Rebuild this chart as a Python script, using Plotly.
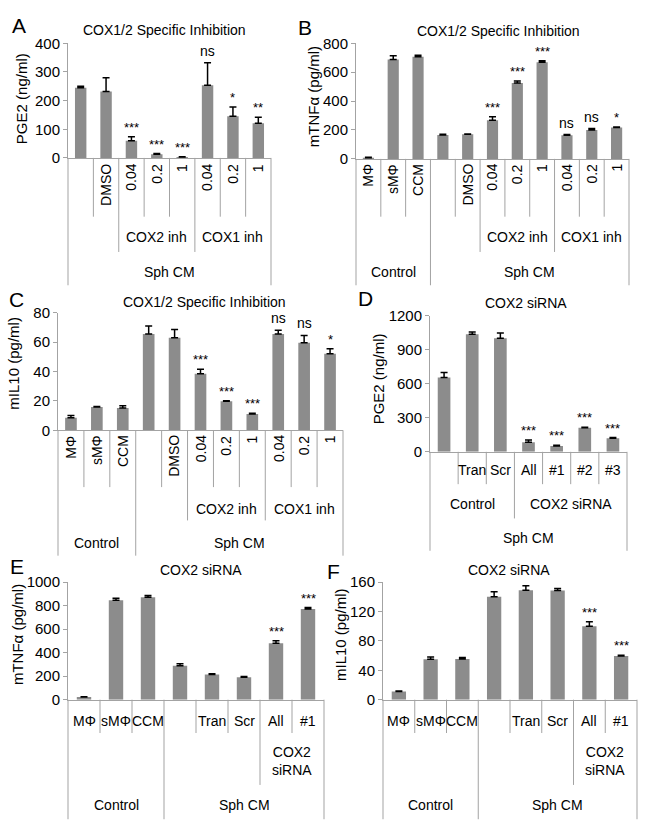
import plotly.graph_objects as go

W, H = 649, 838

# ---------------- data ----------------
A_categories = ["", "DMSO", "0.04", "0.2", "1", "0.04", "0.2", "1"]
A_pge2 = [245, 232, 60, 13, 3, 254, 145, 121]
A_err = [5, 48, 14, 2, 1, 78, 33, 21]
A_sig = ["", "", "***", "***", "***", "ns", "*", "**"]
A_groups = [("COX2 inh", 2, 4, 2), ("COX1 inh", 5, 7, 2), ("Sph CM", 0, 7, 3)]

B_categories = ["MΦ", "sMΦ", "CCM", "", "DMSO", "0.04", "0.2", "1", "0.04", "0.2", "1"]
B_tnfa = [8, 688, 706, 165, 170, 267, 525, 668, 163, 200, 217]
B_err = [3, 25, 12, 5, 3, 25, 14, 12, 5, 10, 4]
B_sig = ["", "", "", "", "", "***", "***", "***", "ns", "ns", "*"]
B_groups = [("COX2 inh", 5, 7, 2), ("COX1 inh", 8, 10, 2), ("Control", 0, 2, 3), ("Sph CM", 3, 10, 3)]

C_categories = ["MΦ", "sMΦ", "CCM", "", "DMSO", "0.04", "0.2", "1", "0.04", "0.2", "1"]
C_il10 = [8.5, 15.8, 15.2, 65.5, 63, 38.5, 19.8, 11, 65.5, 59.5, 52]
C_err = [1.5, 0.3, 1.5, 5.5, 5.5, 3, 0.3, 0.6, 2.5, 5, 3.5]
C_sig = ["", "", "", "", "", "***", "***", "***", "ns", "ns", "*"]
C_groups = [("COX2 inh", 5, 7, 2), ("COX1 inh", 8, 10, 2), ("Control", 0, 2, 3), ("Sph CM", 3, 10, 3)]

D_categories = ["", "Tran", "Scr", "All", "#1", "#2", "#3"]
D_pge2 = [655, 1035, 1000, 85, 52, 212, 120]
D_err = [45, 22, 48, 20, 5, 5, 6]
D_sig = ["", "", "", "***", "***", "***", "***"]
D_groups = [("Control", 0, 2, 2), ("COX2 siRNA", 3, 6, 2), ("Sph CM", 0, 6, 3)]

E_categories = ["MΦ", "sMΦ", "CCM", "", "Tran", "Scr", "All", "#1"]
E_tnfa = [22, 845, 872, 288, 215, 190, 480, 772]
E_err = [3, 18, 15, 18, 6, 8, 22, 12]
E_sig = ["", "", "", "", "", "", "***", "***"]
E_groups = [("COX2<br>siRNA", 6, 7, 2), ("Control", 0, 2, 3), ("Sph CM", 3, 7, 3)]

F_categories = ["MΦ", "sMΦ", "CCM", "", "Tran", "Scr", "All", "#1"]
F_il10 = [11, 55, 55.5, 140, 149, 148.5, 100, 59.5]
F_err = [1, 3, 2, 7, 6, 3, 6, 1]
F_sig = ["", "", "", "", "", "", "***", "***"]
F_groups = [("COX2<br>siRNA", 6, 7, 2), ("Control", 0, 2, 3), ("Sph CM", 3, 7, 3)]

titles = ["COX1/2 Specific Inhibition", "COX1/2 Specific Inhibition",
          "COX1/2 Specific Inhibition", "COX2 siRNA", "COX2 siRNA", "COX2 siRNA"]
letters = ["A", "B", "C", "D", "E", "F"]
ylabels = ["PGE2 (ng/ml)", "mTNFα (pg/ml)", "mIL10 (pg/ml)",
           "PGE2 (ng/ml)", "mTNFα (pg/ml)", "mIL10 (pg/ml)"]

# ---------------- layout geometry (pixels) ----------------
FONT = "Liberation Sans, Arial, sans-serif"
BAR = "#8c8c8c"
LINE = "#a3a3a3"

panels = [
    dict(cats=A_categories, vals=A_pge2, errs=A_err, sig=A_sig, groups=A_groups,
         x0=68, x1=271, yt=35, yb=152, rng=[0, 400], dt=100, rot=True,
         letter=(19, 17), title=(164, 21), ylab=(21, 92),
         depth={1: 212, 2: 248, 3: 282}, laby={1: 156, 2: 233, 3: 268}),
    dict(cats=B_categories, vals=B_tnfa, errs=B_err, sig=B_sig, groups=B_groups,
         x0=356, x1=629, yt=35, yb=153, rng=[0, 800], dt=200, rot=True,
         letter=(305, 19), title=(498, 22), ylab=(313, 90),
         depth={1: 212, 2: 248, 3: 282}, laby={1: 156, 2: 233, 3: 268}),
    dict(cats=C_categories, vals=C_il10, errs=C_err, sig=C_sig, groups=C_groups,
         x0=58, x1=343, yt=310, yb=430, rng=[0, 80], dt=20, rot=True,
         letter=(16, 297), title=(204, 299), ylab=(14, 362),
         depth={1: 488, 2: 522, 3: 558}, laby={1: 433, 2: 510, 3: 545}),
    dict(cats=D_categories, vals=D_pge2, errs=D_err, sig=D_sig, groups=D_groups,
         x0=430, x1=627, yt=313, yb=452, rng=[0, 1200], dt=300, rot=False,
         letter=(365, 296), title=(526, 300), ylab=(378, 378),
         depth={1: 485, 2: 520, 3: 553}, laby={1: 471, 2: 505, 3: 540}),
    dict(cats=E_categories, vals=E_tnfa, errs=E_err, sig=E_sig, groups=E_groups,
         x0=68, x1=324, yt=585, yb=705, rng=[0, 1000], dt=200, rot=False,
         letter=(17, 569), title=(201, 573), ylab=(17, 639),
         depth={1: 739, 2: 792, 3: 827}, laby={1: 727, 2: 768, 3: 812}),
    dict(cats=F_categories, vals=F_il10, errs=F_err, sig=F_sig, groups=F_groups,
         x0=383, x1=637, yt=585, yb=705, rng=[0, 160], dt=40, rot=False,
         letter=(333, 574), title=(509, 573), ylab=(340, 639),
         depth={1: 739, 2: 792, 3: 827}, laby={1: 727, 2: 768, 3: 812}),
]


def px(xp):
    return xp / W


def py(yp):
    return 1 - yp / H


fig = go.Figure()
annotations = []
shapes = []
layout = {}

for k, p in enumerate(panels, start=1):
    n = len(p["cats"])
    xa = "x" if k == 1 else f"x{k}"
    ya = "y" if k == 1 else f"y{k}"
    xkey = "xaxis" if k == 1 else f"xaxis{k}"
    ykey = "yaxis" if k == 1 else f"yaxis{k}"
    xdom = [px(p["x0"]), px(p["x1"])]
    ydom = [py(p["yb"]), py(p["yt"])]

    fig.add_trace(go.Bar(
        x=list(range(n)), y=p["vals"], xaxis=xa, yaxis=ya,
        marker=dict(color=BAR, line=dict(width=0)),
        error_y=dict(type="data", array=p["errs"], arrayminus=[0] * n,
                     symmetric=False, color="black", thickness=1.5, width=3.5),
        showlegend=False, hoverinfo="skip"))

    layout[xkey] = dict(domain=xdom, range=[-0.5, n - 0.5], anchor=ya,
                        showticklabels=False, ticks="", showgrid=False,
                        zeroline=False, showline=True, linecolor=LINE, linewidth=1,
                        fixedrange=True)
    layout[ykey] = dict(domain=ydom, range=p["rng"], dtick=p["dt"], anchor=xa,
                        showgrid=False, zeroline=False, showline=True,
                        linecolor=LINE, linewidth=1, ticks="outside", ticklen=4,
                        tickcolor=LINE, tickfont=dict(size=15, color="black", family=FONT),
                        fixedrange=True)

    # significance marks
    for i, s in enumerate(p["sig"]):
        if not s:
            continue
        star = s.startswith("*")
        annotations.append(dict(
            x=i, y=p["vals"][i] + p["errs"][i], xref=xa, yref=ya,
            text=s, showarrow=False, yanchor="bottom", xanchor="center",
            yshift=0 if star else 2,
            font=dict(size=13 if star else 14, family=FONT, color="black")))

    # category labels (level 1)
    for i, c in enumerate(p["cats"]):
        if not c:
            continue
        if p["rot"]:
            annotations.append(dict(
                x=i, y=py(p["laby"][1]), xref=xa, yref="paper", text=c,
                showarrow=False, textangle=-90, yanchor="top", xanchor="center",
                font=dict(size=14, family=FONT, color="black")))
        else:
            annotations.append(dict(
                x=i, y=py(p["laby"][1]), xref=xa, yref="paper", text=c,
                showarrow=False, yanchor="middle", xanchor="center",
                font=dict(size=14, family=FONT, color="black")))

    # group labels
    for (g, a, b, lev) in p["groups"]:
        annotations.append(dict(
            x=(a + b) / 2, y=py(p["laby"][lev]), xref=xa, yref="paper", text=g,
            showarrow=False, yanchor="middle", xanchor="center",
            font=dict(size=14, family=FONT, color="black")))

    # separator lines of the category table
    depth_at = {i: 1 for i in range(-1, n)}
    depth_at[-1] = 3
    depth_at[n - 1] = 3
    for (g, a, b, lev) in p["groups"]:
        depth_at[a - 1] = max(depth_at[a - 1], lev)
        depth_at[b] = max(depth_at[b], lev)
    for i, lev in depth_at.items():
        xb = xdom[0] + (i + 1) / n * (xdom[1] - xdom[0])
        shapes.append(dict(type="line", xref="paper", yref="paper",
                           x0=xb, x1=xb, y0=py(p["yb"]), y1=py(p["depth"][lev]),
                           line=dict(color=LINE, width=1)))

    # panel letter, title, y label
    lx, ly = p["letter"]
    annotations.append(dict(x=px(lx), y=py(ly), xref="paper", yref="paper",
                            text=letters[k - 1], showarrow=False,
                            xanchor="center", yanchor="middle",
                            font=dict(size=21, family=FONT, color="black")))
    tx, ty = p["title"]
    annotations.append(dict(x=px(tx), y=py(ty), xref="paper", yref="paper",
                            text=titles[k - 1], showarrow=False,
                            xanchor="center", yanchor="middle",
                            font=dict(size=14, family=FONT, color="black")))
    yx, yy = p["ylab"]
    annotations.append(dict(x=px(yx), y=py(yy), xref="paper", yref="paper",
                            text=ylabels[k - 1], showarrow=False, textangle=-90,
                            xanchor="center", yanchor="middle",
                            font=dict(size=15, family=FONT, color="black")))

fig.update_layout(
    width=W, height=H, margin=dict(l=0, r=0, t=0, b=0),
    paper_bgcolor="white", plot_bgcolor="white",
    bargap=0.55, showlegend=False,
    annotations=annotations, shapes=shapes,
    font=dict(family=FONT, color="black"),
    **layout)

fig.write_html("out.html",
               config={"displayModeBar": False, "staticPlot": True},
               post_script="document.body.style.margin='0';document.body.style.overflow='hidden';")
